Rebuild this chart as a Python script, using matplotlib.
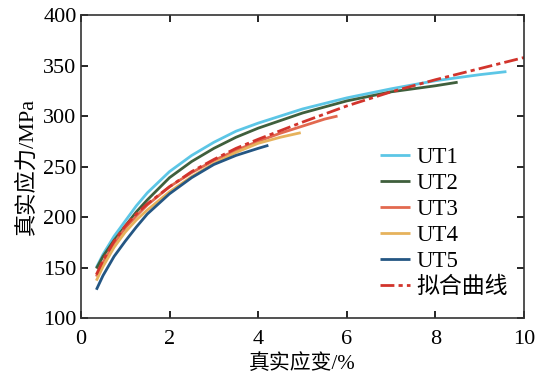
import matplotlib
matplotlib.use("Agg")
import matplotlib.pyplot as plt

plt.rcParams['font.family'] = ['Liberation Serif', 'Noto Sans CJK SC']
plt.rcParams['mathtext.fontset'] = 'stix'

# Data (true strain %, true stress MPa)
ut1_x = [0.35, 0.5, 0.75, 1.0, 1.25, 1.5, 2.0, 2.5, 3.0, 3.5, 4.0, 5.0, 6.0, 7.0, 8.0, 9.0, 9.6]
ut1_y = [150, 163, 181, 196, 211, 224, 245, 261, 274, 285, 293, 307, 318, 327, 335, 341, 344]

ut2_x = [0.35, 0.5, 0.75, 1.0, 1.25, 1.5, 2.0, 2.5, 3.0, 3.5, 4.0, 5.0, 6.0, 7.0, 8.0, 8.5]
ut2_y = [149, 161, 177, 191, 205, 217, 239, 255, 268, 279, 288, 303, 315, 324, 330, 333.5]

ut3_x = [0.35, 0.5, 0.75, 1.0, 1.25, 1.5, 2.0, 2.5, 3.0, 3.5, 4.0, 4.5, 5.0, 5.5, 5.79]
ut3_y = [141, 155, 174, 189, 201, 212, 230, 244, 256, 266, 275, 283, 290, 297, 300]

ut4_x = [0.35, 0.5, 0.75, 1.0, 1.25, 1.5, 2.0, 2.5, 3.0, 3.5, 4.0, 4.5, 4.96]
ut4_y = [137, 151, 170, 185, 197, 207, 225, 240, 253, 264, 273, 279, 283.5]

ut5_x = [0.35, 0.5, 0.75, 1.0, 1.25, 1.5, 2.0, 2.5, 3.0, 3.5, 4.0, 4.23]
ut5_y = [128, 142, 161, 176, 190, 203, 223, 239, 252, 261, 268, 271]

fit_x = [0.35, 0.5, 0.75, 1.0, 1.25, 1.5, 2.0, 2.5, 3.0, 3.5, 4.0, 5.0, 6.0, 7.0, 8.0, 9.0, 10.0]
fit_y = [143, 157, 176, 191, 203, 213, 230, 245, 257, 268, 277, 294, 310, 324, 336, 347, 358]

labels = ['UT1', 'UT2', 'UT3', 'UT4', 'UT5', '拟合曲线']
colors = ['#5cc6e6', '#3f5f3c', '#e2694f', '#e6b25c', '#245683', '#d2342c']

fig = plt.figure(figsize=(5.5, 3.77), dpi=100)
ax = fig.add_axes([0.147, 0.1565, 0.806, 0.8035])

series = [(ut1_x, ut1_y), (ut2_x, ut2_y), (ut3_x, ut3_y), (ut4_x, ut4_y), (ut5_x, ut5_y)]
for (xs, ys), lab, c in zip(series, labels[:5], colors[:5]):
    ax.plot(xs, ys, color=c, lw=2.0, label=lab, solid_capstyle='butt')
ax.plot(fit_x, fit_y, color=colors[5], lw=2.0, linestyle=(0, (5, 1.5, 1.5, 1.5)), label=labels[5])

ax.set_xlim(0, 10)
ax.set_ylim(100, 400)
ax.set_xticks([0, 2, 4, 6, 8, 10])
ax.set_yticks([100, 150, 200, 250, 300, 350, 400])
ax.tick_params(direction='in', top=True, right=True, length=5, width=1.2, labelsize=16)
ax.tick_params(axis='x', pad=9)
ax.tick_params(axis='y', pad=3)
for s in ax.spines.values():
    s.set_linewidth(1.2)
    s.set_color('#333333')

ax.set_xlabel('真实应变/%', fontsize=15, labelpad=3)
ax.set_ylabel('真实应力/MPa', fontsize=16, labelpad=4)

leg = ax.legend(loc='lower right', bbox_to_anchor=(0.995, 0.02), frameon=False, fontsize=16.5,
                handlelength=1.3, handletextpad=0.3, labelspacing=0.22, borderaxespad=0.2)

fig.savefig('out.png', dpi=100)
